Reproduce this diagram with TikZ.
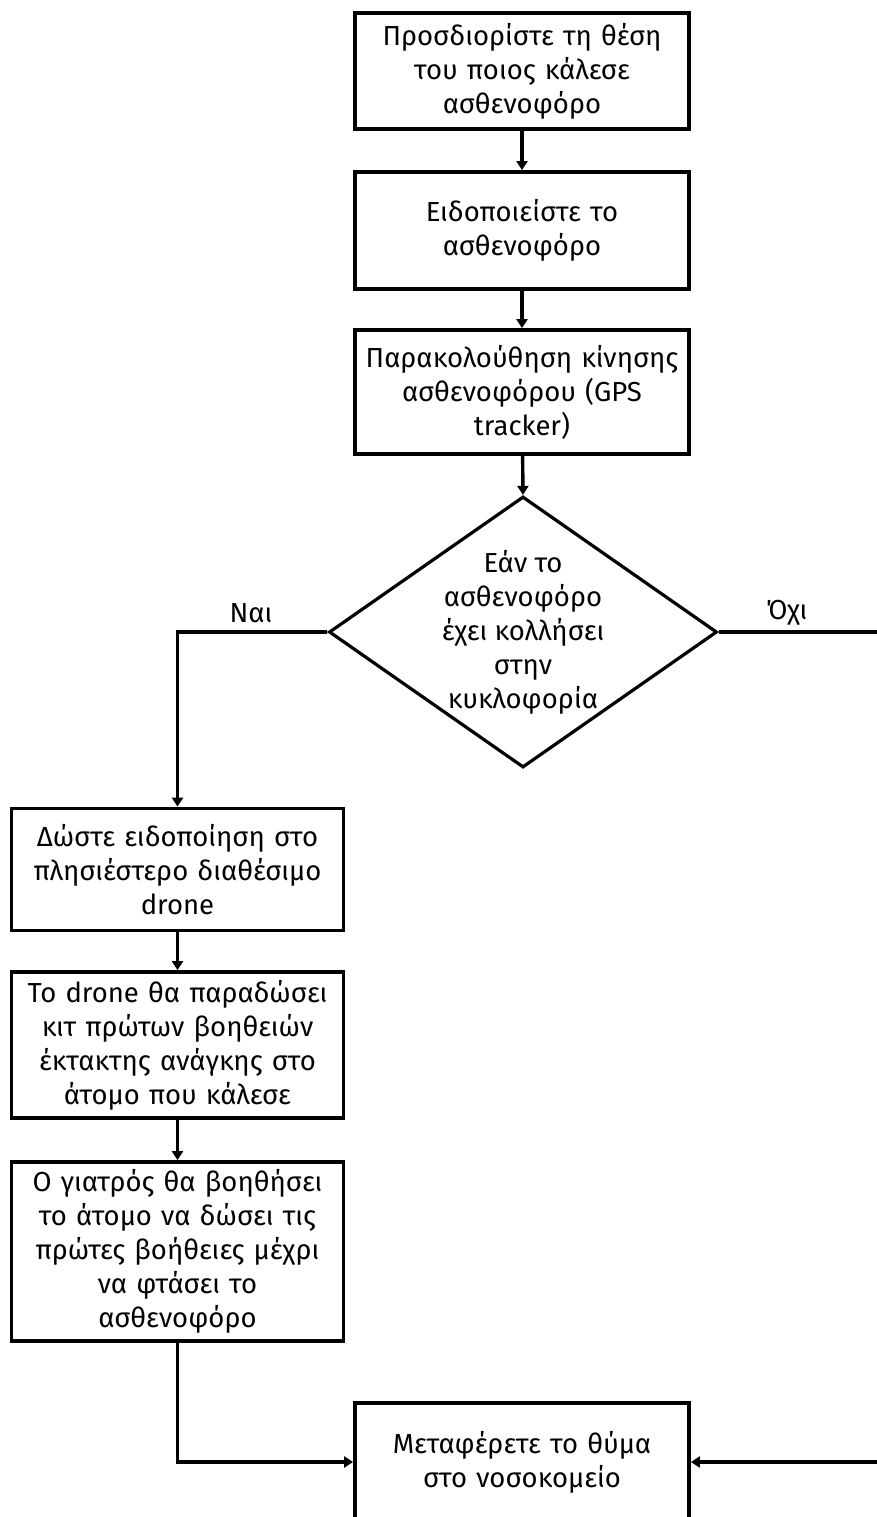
\documentclass[tikz,border=0pt]{standalone}
\usepackage{fontspec}
\setmainfont{Fira Sans}
\usetikzlibrary{arrows.meta,shapes.geometric}
\begin{document}
\begin{tikzpicture}[x=1pt,y=-1pt,
  every node/.style={font=\fontsize{27.5}{34}\selectfont},
  box/.style={draw, line width=3.8pt, align=center, inner sep=0pt, text width=328pt},
  flow/.style={line width=3.4pt, -{Triangle[width=11pt,length=9pt]}},
  lbl/.style={inner sep=0pt}
]
\useasboundingbox (0,0) rectangle (877,1517);

% main column
\node[box, minimum width=334pt, minimum height=116pt] (b1) at (522,71)
  {Προσδιορίστε τη θέση\\του ποιος κάλεσε\\ασθενοφόρο};
\node[box, minimum width=334pt, minimum height=117pt] (b2) at (522,230.5)
  {Ειδοποιείστε το\\ασθενοφόρο};
\node[box, minimum width=334pt, minimum height=124pt] (b3) at (522,392)
  {Παρακολούθηση κίνησης\\ασθενοφόρου (GPS\\tracker)};

% decision
\node[draw, shape=diamond, line width=3.2pt, minimum width=388pt, minimum height=271pt,
      inner sep=0pt] (dia) at (523,632) {};
\node[align=center, inner sep=0pt] (diatext) at (523,632)
  {Εάν το\\ασθενοφόρο\\έχει κολλήσει\\στην\\κυκλοφορία};

% left branch
\node[box, minimum width=332pt, minimum height=122pt] (b4) at (177.5,869.5)
  {Δώστε ειδοποίηση στο\\πλησιέστερο διαθέσιμο\\drone};
\node[box, minimum width=332pt, minimum height=146pt] (b5) at (177.5,1045)
  {Το drone θα παραδώσει\\κιτ πρώτων βοηθειών\\έκτακτης ανάγκης στο\\άτομο που κάλεσε};
\node[box, minimum width=332pt, minimum height=179pt] (b6) at (177.5,1251.5)
  {Ο γιατρός θα βοηθήσει\\το άτομο να δώσει τις\\πρώτες βοήθειες μέχρι\\να φτάσει το\\ασθενοφόρο};

% destination
\node[box, minimum width=334pt, minimum height=118pt] (b7) at (522,1462)
  {Μεταφέρετε το θύμα\\στο νοσοκομείο};

% connectors
\draw[flow] (b1) -- (b2);
\draw[flow] (b2) -- (b3);
\draw[flow] (b3) -- (dia.north);
\draw[flow] (dia.west) -| (b4.north);
\draw[flow] (b4) -- (b5);
\draw[flow] (b5) -- (b6);
\draw[flow] (b6.south) |- (b7.west);
\coordinate (rt) at (900,632);
\draw[flow] (dia.east) -- (rt) |- (b7.east);

% branch labels
\node[lbl] (yes) at (251,613) {Ναι};
\node[lbl] (no) at (787,613) {Όχι};
\end{tikzpicture}
\end{document}
